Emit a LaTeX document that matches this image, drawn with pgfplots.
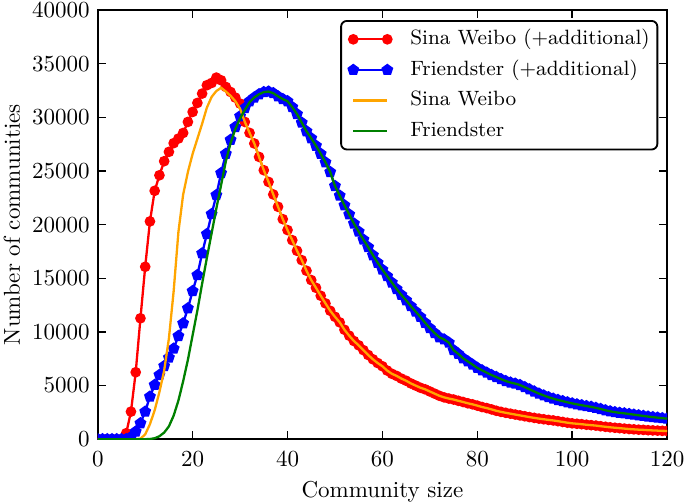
\documentclass[border=0pt]{standalone}
\usepackage{pgfplots}
\usepackage{pgfplotstable}
\pgfplotsset{compat=1.18}
\usetikzlibrary{plotmarks}
\definecolor{mplorange}{RGB}{255,165,0}
\definecolor{mplgreen}{RGB}{0,128,0}

\pgfplotstableread{
x y
0 0
1 0
2 0
3 0
4 0
5 0
6 560
7 2570
8 6240
9 11270
10 16070
11 20300
12 23150
13 24600
14 25910
15 26780
16 27590
17 28020
18 28540
19 29570
20 30500
21 31340
22 32210
23 32990
24 33200
25 33700
26 33450
27 32830
28 32360
29 31840
30 31280
31 29570
32 28550
33 27560
34 26310
35 25070
36 23980
37 22810
38 21660
39 20510
40 19490
41 18550
42 17560
43 16690
44 15700
45 14830
46 14110
47 13370
48 12660
49 11970
50 11410
51 10890
52 10200
53 9650
54 9150
55 8750
56 8300
57 7850
58 7450
59 7100
60 6800
61 6400
62 6100
63 5900
64 5650
65 5450
66 5200
67 5000
68 4800
69 4650
70 4450
71 4250
72 4050
73 3900
74 3790
75 3700
76 3580
77 3470
78 3350
79 3250
80 3130
81 3000
82 2900
83 2780
84 2650
85 2550
86 2460
87 2380
88 2300
89 2220
90 2140
91 2060
92 1990
93 1920
94 1860
95 1800
96 1750
97 1680
98 1610
99 1540
100 1480
101 1440
102 1400
103 1350
104 1310
105 1270
106 1210
107 1160
108 1110
109 1070
110 1030
111 990
112 950
113 920
114 890
115 870
116 840
117 820
118 800
119 780
120 770
}\redtable

\pgfplotstableread{
x y
0 0
1 0
2 0
3 0
4 0
5 0
6 0
7 200
8 710
9 1490
10 2570
11 3970
12 5060
13 5990
14 6820
15 7600
16 8440
17 9620
18 10800
19 12200
20 13810
21 15300
22 17320
23 19120
24 20980
25 22750
26 24800
27 26600
28 27900
29 29100
30 30100
31 30850
32 31500
33 31850
34 32150
35 32350
36 32400
37 32250
38 31950
39 31700
40 31500
41 30950
42 30300
43 29500
44 28700
45 28050
46 27350
47 26600
48 25800
49 24900
50 23600
51 22700
52 21800
53 20950
54 20100
55 19350
56 18600
57 17900
58 17150
59 16450
60 15800
61 15200
62 14600
63 14000
64 13450
65 12950
66 12400
67 11900
68 11400
69 10850
70 10350
71 9900
72 9500
73 9300
74 9000
75 8300
76 7950
77 7550
78 7250
79 6950
80 6650
81 6420
82 6200
83 5980
84 5800
85 5600
86 5420
87 5280
88 5180
89 5050
90 4850
91 4650
92 4450
93 4250
94 4080
95 3920
96 3780
97 3660
98 3550
99 3440
100 3340
101 3250
102 3170
103 3090
104 3020
105 2920
106 2820
107 2700
108 2600
109 2520
110 2460
111 2410
112 2350
113 2290
114 2230
115 2170
116 2110
117 2060
118 2010
119 1960
120 1920
}\bluetable

\pgfplotstableread{
x y
0 0
1 0
2 0
3 0
4 0
5 0
6 0
7 0
8 0
9 50
10 450
11 1400
12 2700
13 4400
14 6400
15 9400
16 13800
17 19300
18 22800
19 24900
20 26600
21 28000
22 29400
23 30900
24 31900
25 32450
26 32750
27 32400
28 32000
29 31500
30 30800
31 29570
32 28550
33 27560
34 26310
35 25070
36 23980
37 22810
38 21660
39 20510
40 19490
41 18550
42 17560
43 16690
44 15700
45 14830
46 14110
47 13370
48 12660
49 11970
50 11410
51 10890
52 10200
53 9650
54 9150
55 8750
56 8300
57 7850
58 7450
59 7100
60 6800
61 6400
62 6100
63 5900
64 5650
65 5450
66 5200
67 5000
68 4800
69 4650
70 4450
71 4250
72 4050
73 3900
74 3790
75 3700
76 3580
77 3470
78 3350
79 3250
80 3130
81 3000
82 2900
83 2780
84 2650
85 2550
86 2460
87 2380
88 2300
89 2220
90 2140
91 2060
92 1990
93 1920
94 1860
95 1800
96 1750
97 1680
98 1610
99 1540
100 1480
101 1440
102 1400
103 1350
104 1310
105 1270
106 1210
107 1160
108 1110
109 1070
110 1030
111 990
112 950
113 920
114 890
115 870
116 840
117 820
118 800
119 780
120 770
}\orangetable

\pgfplotstableread{
x y
0 0
1 0
2 0
3 0
4 0
5 0
6 0
7 0
8 0
9 0
10 0
11 20
12 90
13 280
14 620
15 1200
16 2200
17 3600
18 5400
19 7400
20 9700
21 12000
22 14500
23 16900
24 19200
25 21500
26 23700
27 25900
28 27600
29 28900
30 29900
31 30700
32 31400
33 31850
34 32150
35 32350
36 32400
37 32250
38 31950
39 31700
40 31500
41 30950
42 30300
43 29500
44 28700
45 28050
46 27350
47 26600
48 25800
49 24900
50 23600
51 22700
52 21800
53 20950
54 20100
55 19350
56 18600
57 17900
58 17150
59 16450
60 15800
61 15200
62 14600
63 14000
64 13450
65 12950
66 12400
67 11900
68 11400
69 10850
70 10350
71 9900
72 9500
73 9300
74 9000
75 8300
76 7950
77 7550
78 7250
79 6950
80 6650
81 6420
82 6200
83 5980
84 5800
85 5600
86 5420
87 5280
88 5180
89 5050
90 4850
91 4650
92 4450
93 4250
94 4080
95 3920
96 3780
97 3660
98 3550
99 3440
100 3340
101 3250
102 3170
103 3090
104 3020
105 2920
106 2820
107 2700
108 2600
109 2520
110 2460
111 2410
112 2350
113 2290
114 2230
115 2170
116 2110
117 2060
118 2010
119 1960
120 1920
}\greentable

\begin{document}
\begin{tikzpicture}
\begin{axis}[
  scale only axis,
  width=247.5pt, height=186.6pt,
  xmin=0, xmax=120, ymin=0, ymax=40000,
  xtick={0,20,...,120},
  ytick={0,5000,...,40000},
  scaled y ticks=false,
  /pgf/number format/1000 sep={},
  yticklabel style={inner sep=0pt, anchor=east, xshift=-3.35pt},
  xticklabel style={inner sep=0pt, anchor=north, yshift=-5.1pt},
  tick align=inside,
  xtick pos=both, ytick pos=both,
  major tick length=3.5pt,
  every tick/.style={black, line width=0.6pt},
  axis line style={line width=0.85pt},
  xlabel={Community size},
  ylabel={Number of communities},
  xlabel style={at={(axis description cs:0.5,-0.0965)}, anchor=north, inner sep=0pt},
  ylabel style={at={(axis description cs:-0.1366,0.5)}, anchor=base, inner sep=0pt},
  clip marker paths=true,
  legend image code/.code={\draw[#1] plot coordinates {(0pt,0pt) (14.8pt,0pt)};},
  legend cell align=left,
  legend style={at={(rel axis cs:0.9846,0.9767)}, anchor=north east,
    draw=black, line width=0.8pt, rounded corners=2.5pt,
    font=\fontsize{9}{11}\selectfont,
    inner xsep=3.3pt, inner ysep=3.5pt, row sep=4.3pt, column sep=8pt,
    nodes={inner sep=0pt, text height=6.75pt, text depth=2.25pt}},
]
\addplot[red, line width=1pt, mark=*, mark size=1.8pt, mark options={solid, fill=red, draw=red}] table[x=x,y=y] {\redtable};
\addlegendentry{Sina Weibo (+additional)}
\addplot[blue, line width=1pt, mark=pentagon*, mark size=2.1pt, mark options={solid, fill=blue, draw=blue}] table[x=x,y=y] {\bluetable};
\addlegendentry{Friendster (+additional)}
\addplot[mplorange, line width=1pt, no marks] table[x=x,y=y] {\orangetable};
\addlegendentry{Sina Weibo}
\addplot[mplgreen, line width=1pt, no marks] table[x=x,y=y] {\greentable};
\addlegendentry{Friendster}
\end{axis}
\path ([shift={(-42.5pt,-27pt)}]current axis.south west) rectangle ([shift={(7.8pt,4.35pt)}]current axis.north east);
\end{tikzpicture}
\end{document}
